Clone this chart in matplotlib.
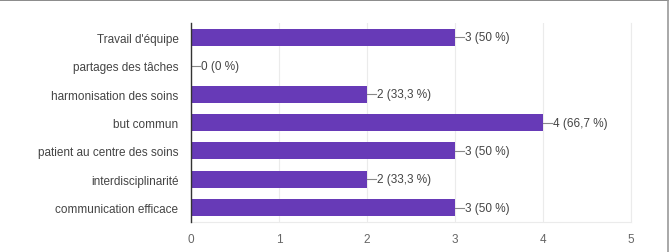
"""Bar chart of survey answers (counts and shares)."""

import matplotlib

matplotlib.use("Agg")
import matplotlib.pyplot as plt
from matplotlib.lines import Line2D

categories = [
    "Travail d'équipe",
    "partages des tâches",
    "harmonisation des soins",
    "but commun",
    "patient au centre des soins",
    "interdisciplinarité",
    "communication efficace",
]
counts = [3, 0, 2, 4, 3, 2, 3]
shares = ["50 %", "0 %", "33,3 %", "66,7 %", "50 %", "33,3 %", "50 %"]
x_ticks = [0, 1, 2, 3, 4, 5]

BAR_COLOR = "#673ab7"
TEXT_COLOR = "#444444"

plt.rcParams["font.family"] = ["Liberation Sans", "DejaVu Sans"]

fig = plt.figure(figsize=(6.71, 2.53), dpi=100)
ax = fig.add_axes([0.2846, 0.1186, 0.9404 - 0.2846, 0.905 - 0.1186])

positions = list(range(len(categories)))
ax.barh(positions, counts, height=0.6, color=BAR_COLOR, zorder=3)

for pos, count, share in zip(positions, counts, shares):
    ax.plot([count, count + 0.1], [pos, pos], color="#888888", lw=0.8, zorder=4)
    ax.text(count + 0.115, pos, f"{count} ({share})", va="center", ha="left",
            fontsize=8.5, color=TEXT_COLOR, zorder=4)

ax.set_xlim(0, 5)
ax.set_ylim(len(categories) - 0.5, -0.5)
ax.set_xticks(x_ticks)
ax.set_xticklabels([str(t) for t in x_ticks])
ax.set_yticks(positions)
ax.set_yticklabels(categories)
ax.tick_params(axis="both", length=0, labelsize=8.5, labelcolor=TEXT_COLOR)
ax.tick_params(axis="x", pad=8, labelcolor="#666666")
ax.tick_params(axis="y", pad=9)

ax.grid(axis="x", color="#ebebeb", lw=0.8, zorder=0)
ax.spines["top"].set_visible(False)
ax.spines["right"].set_color("#ebebeb")
ax.spines["bottom"].set_color("#ebebeb")
ax.spines["left"].set_color("#333333")
ax.spines["left"].set_linewidth(1.0)
ax.spines["left"].set_zorder(5)

# outer screenshot frame (top and right edges only)
fig.add_artist(Line2D([0, 0.995], [0.995, 0.995], transform=fig.transFigure,
                      color="#777777", lw=1.2))
fig.add_artist(Line2D([0.995, 0.995], [0, 0.995], transform=fig.transFigure,
                      color="#999999", lw=1.2))

fig.savefig("out.png", dpi=100)
